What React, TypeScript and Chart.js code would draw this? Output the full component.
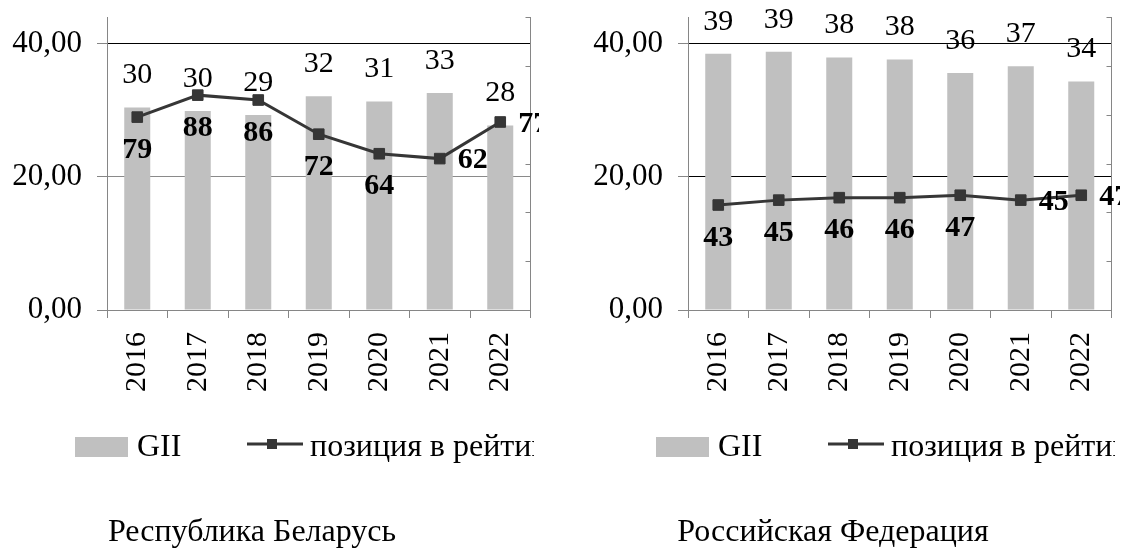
import React, { useEffect, useRef } from 'react';
import { Chart, registerables } from 'chart.js';

Chart.register(...registerables);

const FONT = "'Liberation Serif', 'Times New Roman', Times, serif";
const AXIS = '#868686';
const BAR = '#c0c0c0';
const LINE = '#363636';

// ---- data ----
const years = ['2016', '2017', '2018', '2019', '2020', '2021', '2022'];
const belarusGII = [30.4, 29.9, 29.3, 32.1, 31.3, 32.6, 27.7];
const belarusRank = [79, 88, 86, 72, 64, 62, 77];
const russiaGII = [38.5, 38.8, 37.9, 37.6, 35.6, 36.6, 34.3];
const russiaRank = [43, 45, 46, 46, 47, 45, 47];
const giiTicks = [0, 20, 40];
const rankTicks = [0, 20, 40, 60, 80, 100, 120];
const seriesNames = ['GII', 'позиция в рейтинге'];
const belarusRankPlacement = ['below', 'below', 'below', 'below', 'below', 'right', 'right'];
const russiaRankPlacement = ['below', 'below', 'below', 'below', 'below', 'right', 'right'];

type PanelProps = {
  title: string;
  gii: number[];
  rank: number[];
  placement: string[];
  grid20: string;
  left: number;
};

const noPad = (s: any) => {
  s.paddingTop = 0;
  s.paddingBottom = 0;
  s.paddingLeft = 0;
  s.paddingRight = 0;
};

function Panel({ title, gii, rank, placement, grid20, left }: PanelProps) {
  const ref = useRef<HTMLCanvasElement>(null);

  useEffect(() => {
    const canvas = ref.current;
    if (!canvas) return;

    const overlay = {
      id: 'overlay',
      afterDraw(chart: any) {
        const { ctx, chartArea } = chart;
        const y1 = chart.scales.y1;
        ctx.save();

        // inner tick marks of the secondary axis
        ctx.strokeStyle = AXIS;
        ctx.lineWidth = 1;
        for (const t of y1.ticks) {
          const py = Math.round(y1.getPixelForValue(t.value)) + 0.5;
          ctx.beginPath();
          ctx.moveTo(chartArea.right - 5, py);
          ctx.lineTo(chartArea.right, py);
          ctx.stroke();
        }

        // GII labels above bars
        ctx.fillStyle = '#000';
        ctx.textAlign = 'center';
        ctx.textBaseline = 'middle';
        ctx.font = `30px ${FONT}`;
        const bars = chart.getDatasetMeta(0).data;
        bars.forEach((b: any, i: number) => {
          ctx.fillText(String(Math.round(gii[i])), b.x, b.y - 32);
        });

        // rank labels
        ctx.font = `bold 30px ${FONT}`;
        const pts = chart.getDatasetMeta(1).data;
        pts.forEach((p: any, i: number) => {
          if (placement[i] === 'right') ctx.fillText(String(rank[i]), p.x + 33, p.y + 2);
          else ctx.fillText(String(rank[i]), p.x, p.y + 33);
        });

        // legend
        ctx.fillStyle = BAR;
        ctx.fillRect(75, 437, 53, 20);
        ctx.fillStyle = '#000';
        ctx.textAlign = 'left';
        ctx.textBaseline = 'alphabetic';
        ctx.font = `32px ${FONT}`;
        ctx.fillText(seriesNames[0], 137, 456);
        ctx.strokeStyle = LINE;
        ctx.lineWidth = 3;
        ctx.beginPath();
        ctx.moveTo(247, 444);
        ctx.lineTo(303, 444);
        ctx.stroke();
        ctx.fillStyle = LINE;
        ctx.fillRect(267, 439, 10, 10);
        ctx.save();
        ctx.beginPath();
        ctx.rect(0, 400, 534, 80);
        ctx.clip();
        ctx.fillStyle = '#000';
        ctx.fillText(seriesNames[1], 310, 456);
        ctx.restore();

        // panel title
        ctx.fillStyle = '#000';
        ctx.textAlign = 'center';
        ctx.font = `32px ${FONT}`;
        ctx.fillText(title, 252, 541);

        ctx.restore();
      },
    };

    const chart = new Chart(canvas, {
      type: 'bar',
      data: {
        labels: years,
        datasets: [
          {
            type: 'bar',
            label: seriesNames[0],
            data: gii,
            backgroundColor: BAR,
            borderWidth: 0,
            yAxisID: 'y',
            barPercentage: 0.43,
            categoryPercentage: 1,
            order: 2,
          } as any,
          {
            type: 'line',
            label: seriesNames[1],
            data: rank,
            borderColor: LINE,
            borderWidth: 3,
            backgroundColor: LINE,
            pointStyle: 'rect',
            pointRadius: 7.5,
            pointBackgroundColor: LINE,
            pointBorderColor: LINE,
            pointBorderWidth: 1,
            tension: 0,
            yAxisID: 'y1',
            order: 1,
            clip: false,
          } as any,
        ],
      },
      options: {
        responsive: false,
        animation: false,
        events: [],
        layout: { padding: { top: 17, left: 0, right: 0, bottom: 0 } },
        plugins: {
          legend: { display: false },
          title: { display: false },
          tooltip: { enabled: false },
        },
        scales: {
          x: {
            type: 'category',
            grid: {
              display: true,
              drawOnChartArea: false,
              tickLength: 8,
              color: AXIS,
              offset: true,
            },
            border: { color: AXIS },
            ticks: {
              color: '#000',
              font: { family: FONT, size: 30 },
              padding: 14,
              minRotation: 90,
              maxRotation: 90,
              autoSkip: false,
            },
            afterFit: (s: any) => {
              s.height = 239;
              noPad(s);
            },
          },
          y: {
            type: 'linear',
            position: 'left',
            min: 0,
            max: 44,
            afterBuildTicks: (s: any) => {
              s.ticks = giiTicks.map((v) => ({ value: v }));
            },
            ticks: {
              color: '#000',
              font: { family: FONT, size: 31, lineHeight: 1 },
              padding: 15,
              callback: (v: any) => Number(v).toFixed(2).replace('.', ','),
            },
            grid: {
              tickLength: 10,
              tickColor: AXIS,
              color: (c: any) => {
                const v = c.tick ? c.tick.value : 0;
                if (v === 40) return '#000';
                if (v === 20) return grid20;
                return AXIS;
              },
            },
            border: { color: AXIS },
            afterFit: (s: any) => {
              s.width = 107;
              noPad(s);
            },
          },
          y1: {
            type: 'linear',
            position: 'right',
            min: 0,
            max: 120,
            afterBuildTicks: (s: any) => {
              s.ticks = rankTicks.map((v) => ({ value: v }));
            },
            ticks: { display: false },
            grid: { drawOnChartArea: false, drawTicks: false },
            border: { color: AXIS },
            afterFit: (s: any) => {
              s.width = 2;
              noPad(s);
            },
          },
        },
      },
      plugins: [overlay],
    });

    return () => chart.destroy();
  }, [title, gii, rank, placement, grid20]);

  return (
    <div
      style={{
        position: 'absolute',
        left,
        top: 0,
        width: 539,
        height: 549,
        overflow: 'hidden',
      }}
    >
      <canvas ref={ref} width={539} height={549} style={{ display: 'block' }} />
    </div>
  );
}

export default function App() {
  return (
    <div
      style={{
        position: 'fixed',
        left: 0,
        top: 0,
        width: 1122,
        height: 549,
        background: '#fff',
        overflow: 'hidden',
      }}
    >
      <Panel
        title="Республика Беларусь"
        gii={belarusGII}
        rank={belarusRank}
        placement={belarusRankPlacement}
        grid20="#8a8a8a"
        left={0}
      />
      <Panel
        title="Российская Федерация"
        gii={russiaGII}
        rank={russiaRank}
        placement={russiaRankPlacement}
        grid20="#000"
        left={581}
      />
    </div>
  );
}
